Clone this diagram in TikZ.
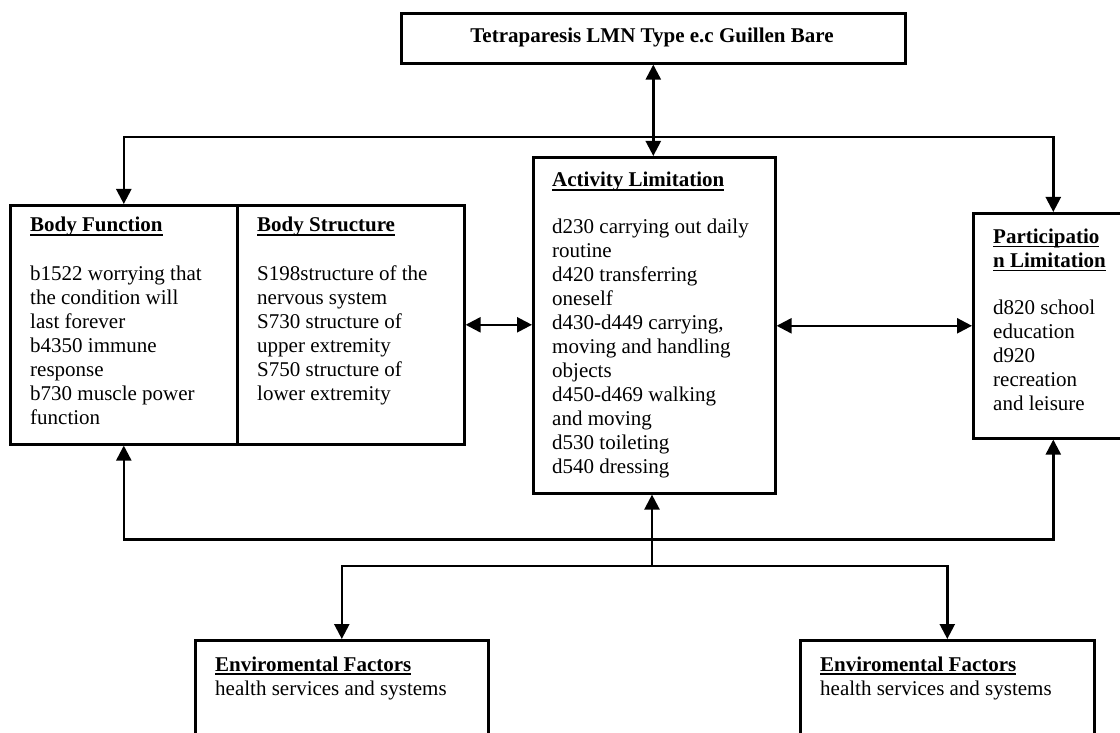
\documentclass[tikz,border=0pt]{standalone}
\usepackage{fontspec}
\setmainfont{Liberation Serif}
\usetikzlibrary{arrows.meta}
\newcommand\ulx[1]{\setbox0=\hbox{#1}\rlap{\rule[-4pt]{\wd0}{1.6pt}}\box0}
\begin{document}
\begin{tikzpicture}[x=1pt,y=-1pt,
  box/.style={draw,line width=2.6pt,anchor=north west,inner sep=0pt},
  txt/.style={anchor=north west,inner sep=0pt,font=\fontsize{21}{24}\selectfont},
  ttl/.style={anchor=base west,inner sep=0pt,font=\fontsize{21}{24}\selectfont\bfseries},
  con/.style={line width=2.4pt},
  arr/.style={con,-{Triangle[length=15pt,width=15pt]}},
  dbl/.style={con,{Triangle[length=15pt,width=15pt]}-{Triangle[length=15pt,width=15pt]}}]
\useasboundingbox (0,0) rectangle (1120,733);
% boxes
\node[box,minimum width=504pt,minimum height=50pt] (top) at (400,12) {};
\node[box,minimum width=227pt,minimum height=239pt] (bf) at (9,204) {};
\node[box,minimum width=227pt,minimum height=239pt] (bs) at (236,204) {};
\node[box,minimum width=242pt,minimum height=336pt] (act) at (532,156) {};
\node[box,minimum width=160pt,minimum height=225pt] (part) at (972,212) {};
\node[box,minimum width=293pt,minimum height=130pt] (env1) at (194,639) {};
\node[box,minimum width=294pt,minimum height=130pt] (env2) at (799,639) {};
% texts
\node[anchor=base,inner sep=0pt,font=\fontsize{21}{24}\selectfont\bfseries] (toptxt) at (652,43) {Tetraparesis LMN Type e.c Guillen Bare};
\node[ttl] (bft) at (30,232) {\ulx{Body Function}};
\node[txt] (bfc) at (30,263.2) {\begin{tabular}{@{}l@{}}b1522 worrying that\\the condition will\\last forever\\b4350 immune\\response\\b730 muscle power\\function\end{tabular}};
\node[ttl] (bst) at (257,232) {\ulx{Body Structure}};
\node[txt] (bsc) at (257,263.2) {\begin{tabular}{@{}l@{}}S198structure of the\\nervous system\\S730 structure of\\upper extremity\\S750 structure of\\lower extremity\end{tabular}};
\node[ttl] (actt) at (552,187) {\ulx{Activity Limitation}};
\node[txt] (actc) at (552,216.6) {\begin{tabular}{@{}l@{}}d230 carrying out daily\\routine\\d420 transferring\\oneself\\d430-d449 carrying,\\moving and handling\\objects\\d450-d469 walking\\and moving\\d530 toileting\\d540 dressing\end{tabular}};
\node[txt,font=\fontsize{21}{24}\selectfont\bfseries] (partt) at (993,226.2) {\begin{tabular}{@{}l@{}}\ulx{Participatio}\\\ulx{n Limitation}\end{tabular}};
\node[txt] (partc) at (993,297.2) {\begin{tabular}{@{}l@{}}d820 school\\education\\d920\\recreation\\and leisure\end{tabular}};
\node[ttl] (e1t) at (215,671) {\ulx{Enviromental Factors}};
\node[anchor=base west,inner sep=0pt,font=\fontsize{21}{24}\selectfont] (e1c) at (215,695) {health services and systems};
\node[ttl] (e2t) at (820,671) {\ulx{Enviromental Factors}};
\node[anchor=base west,inner sep=0pt,font=\fontsize{21}{24}\selectfont] (e2c) at (820,695) {health services and systems};
% connectors
\draw[dbl] (top.south) -- (top.south |- act.north);
\coordinate (j1) at (652,137);
\draw[arr] (j1) -| (bf.north);
\draw[arr] (j1) -| (part.north);
\draw[dbl] (bs.east) -- (bs.east -| act.west);
\draw[dbl] (act.east |- part.west) -- (part.west);
\draw[dbl] (bf.south) -- ++(0,94) -| (part.south);
\coordinate (j3) at (652,566);
\draw[arr] (j3) -- (j3 |- act.south);
\draw[arr] (j3) -| (env1.north);
\draw[arr] (j3) -| (env2.north);
\end{tikzpicture}
\end{document}
